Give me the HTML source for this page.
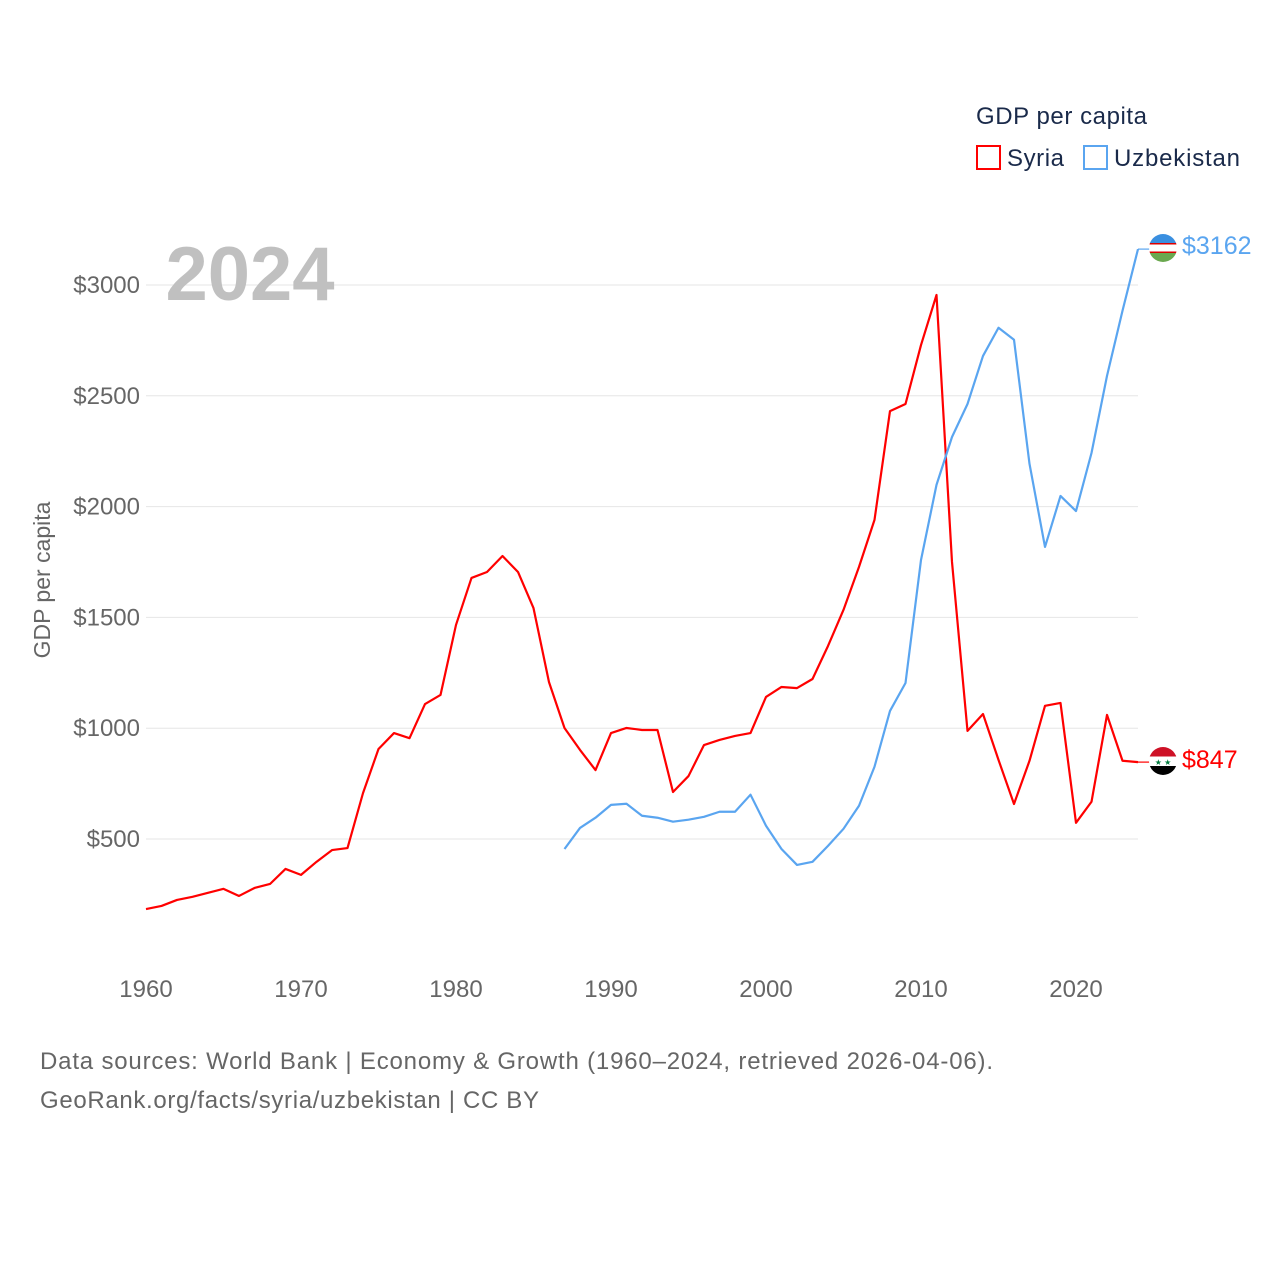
<!DOCTYPE html>
<html><head><meta charset="utf-8">
<style>
html,body{margin:0;padding:0;background:#fff;}
body{width:1280px;height:1280px;overflow:hidden;font-family:"Liberation Sans",sans-serif;}
svg text{font-family:"Liberation Sans",sans-serif;}
</style></head>
<body>
<svg id="chart" width="1280" height="1280" xmlns="http://www.w3.org/2000/svg">
  <g id="grid"></g>
  <g id="yticks"></g>
  <g id="xticks"></g>
  <text x="250" y="300" font-size="76" font-weight="bold" fill="#c0c0c0" text-anchor="middle">2024</text>
  <text transform="translate(50,580) rotate(-90)" font-size="23" fill="#666" text-anchor="middle">GDP per capita</text>
  <g id="series"></g>
  <g>
    <text x="976" y="124" font-size="24" fill="#1a2a4a" textLength="171">GDP per capita</text>
    <g>
      <rect x="977" y="146" width="23" height="23" fill="none" stroke="#ff0000" stroke-width="2"/>
      <text x="1007" y="166" font-size="24" fill="#1a2a4a" textLength="57">Syria</text>
    </g>
    <g>
      <rect x="1084" y="146" width="23" height="23" fill="none" stroke="#5aa5f0" stroke-width="2"/>
      <text x="1114" y="166" font-size="24" fill="#1a2a4a" textLength="126">Uzbekistan</text>
    </g>
  </g>
  <g>
    <clipPath id="cu"><circle cx="1163" cy="248" r="14"/></clipPath>
    <g clip-path="url(#cu)">
      <rect x="1149" y="234" width="28" height="9" fill="#3a8fe0"/>
      <rect x="1149" y="243" width="28" height="1.5" fill="#d00"/>
      <rect x="1149" y="244.5" width="28" height="7" fill="#fff"/>
      <rect x="1149" y="251.5" width="28" height="1.5" fill="#d00"/>
      <rect x="1149" y="253" width="28" height="9" fill="#6aa84f"/>
    </g>
  </g>
  <g>
    <clipPath id="cs"><circle cx="1163" cy="761" r="14"/></clipPath>
    <g clip-path="url(#cs)">
      <rect x="1149" y="747" width="28" height="9.5" fill="#ce1126"/>
      <rect x="1149" y="756.5" width="28" height="9.5" fill="#fff"/>
      <rect x="1149" y="766" width="28" height="9.5" fill="#000"/>
      <text x="1163" y="765" font-size="8" fill="#007a3d" text-anchor="middle">★ ★</text>
    </g>
  </g>
  <text id="lblU" x="1182" y="254" font-size="25" fill="#5aa5f0"></text>
  <text id="lblS" x="1182" y="768" font-size="25" fill="#ff0000"></text>
  <g>
    <text x="40" y="1069" font-size="24" fill="#666" textLength="953">Data sources: World Bank | Economy &amp; Growth (1960–2024, retrieved 2026-04-06).</text>
    <text x="40" y="1108" font-size="24" fill="#666" textLength="499">GeoRank.org/facts/syria/uzbekistan | CC BY</text>
  </g>
</svg>
<script>
const yTickValues = [500, 1000, 1500, 2000, 2500, 3000];
const xTickYears = [1960, 1970, 1980, 1990, 2000, 2010, 2020];
const syriaYears = [1960,1961,1962,1963,1964,1965,1966,1967,1968,1969,1970,1971,1972,1973,1974,1975,1976,1977,1978,1979,1980,1981,1982,1983,1984,1985,1986,1987,1988,1989,1990,1991,1992,1993,1994,1995,1996,1997,1998,1999,2000,2001,2002,2003,2004,2005,2006,2007,2008,2009,2010,2011,2012,2013,2014,2015,2016,2017,2018,2019,2020,2021,2022,2023,2024];
const syriaValues = [184,198,225,239,257,275,243,279,297,365,338,397,450,459,707,906,978,955,1109,1150,1466,1678,1705,1777,1705,1542,1208,1001,902,811,978,1001,992,992,712,784,924,947,965,978,1141,1186,1181,1222,1371,1534,1728,1940,2431,2463,2729,2955,1750,988,1064,857,658,853,1101,1114,573,668,1060,853,847];
const uzbYears = [1987,1988,1989,1990,1991,1992,1993,1994,1995,1996,1997,1998,1999,2000,2001,2002,2003,2004,2005,2006,2007,2008,2009,2010,2011,2012,2013,2014,2015,2016,2017,2018,2019,2020,2021,2022,2023,2024];
const uzbValues = [455,550,596,654,659,605,596,578,587,600,623,623,700,560,455,383,397,469,546,650,826,1078,1204,1759,2098,2314,2463,2680,2807,2753,2193,1818,2048,1980,2242,2590,2884,3162];

const NS = "http://www.w3.org/2000/svg";
function xS(yr){ return 146 + (yr - 1960) * 15.5; }
function yS(v){ return 839 - (v - 500) * (554 / 2500); }

const grid = document.getElementById('grid');
const yt = document.getElementById('yticks');
yTickValues.forEach(v => {
  const l = document.createElementNS(NS, 'line');
  
  
  l.setAttribute('x1', 146); l.setAttribute('x2', 1138);
  l.setAttribute('y1', yS(v)); l.setAttribute('y2', yS(v));
  l.setAttribute('stroke', '#e6e6e6'); l.setAttribute('stroke-width', 1);
  grid.appendChild(l);
  const t = document.createElementNS(NS, 'text');
  
  
  t.setAttribute('x', 140); t.setAttribute('y', yS(v) + 8);
  t.setAttribute('text-anchor', 'end'); t.setAttribute('font-size', 24); t.setAttribute('fill', '#666');
  t.textContent = '$' + v;
  yt.appendChild(t);
});
const xt = document.getElementById('xticks');
xTickYears.forEach(yr => {
  const t = document.createElementNS(NS, 'text');
  
  
  t.setAttribute('x', xS(yr)); t.setAttribute('y', 997);
  t.setAttribute('text-anchor', 'middle'); t.setAttribute('font-size', 24); t.setAttribute('fill', '#666');
  t.textContent = yr;
  xt.appendChild(t);
});
const ser = document.getElementById('series');
function drawLine(years, vals, color, name){
  const p = document.createElementNS(NS, 'polyline');
  
  
  p.setAttribute('points', years.map((y, i) => xS(y) + ',' + yS(vals[i])).join(' '));
  p.setAttribute('fill', 'none'); p.setAttribute('stroke', color); p.setAttribute('stroke-width', 2.2);
  p.setAttribute('stroke-linejoin', 'round');
  ser.appendChild(p);
  const lastX = xS(years[years.length - 1]), lastY = yS(vals[vals.length - 1]);
  const c = document.createElementNS(NS, 'line');
  
  
  c.setAttribute('x1', lastX); c.setAttribute('y1', lastY);
  c.setAttribute('x2', 1150); c.setAttribute('y2', lastY);
  c.setAttribute('stroke', color); c.setAttribute('stroke-width', 1.2);
  ser.appendChild(c);
}
drawLine(syriaYears, syriaValues, '#ff0000', 'syria-line');
drawLine(uzbYears, uzbValues, '#5aa5f0', 'uzbekistan-line');
document.getElementById('lblU').textContent = '$' + uzbValues[uzbValues.length - 1];
document.getElementById('lblS').textContent = '$' + syriaValues[syriaValues.length - 1];
</script>
</body></html>
